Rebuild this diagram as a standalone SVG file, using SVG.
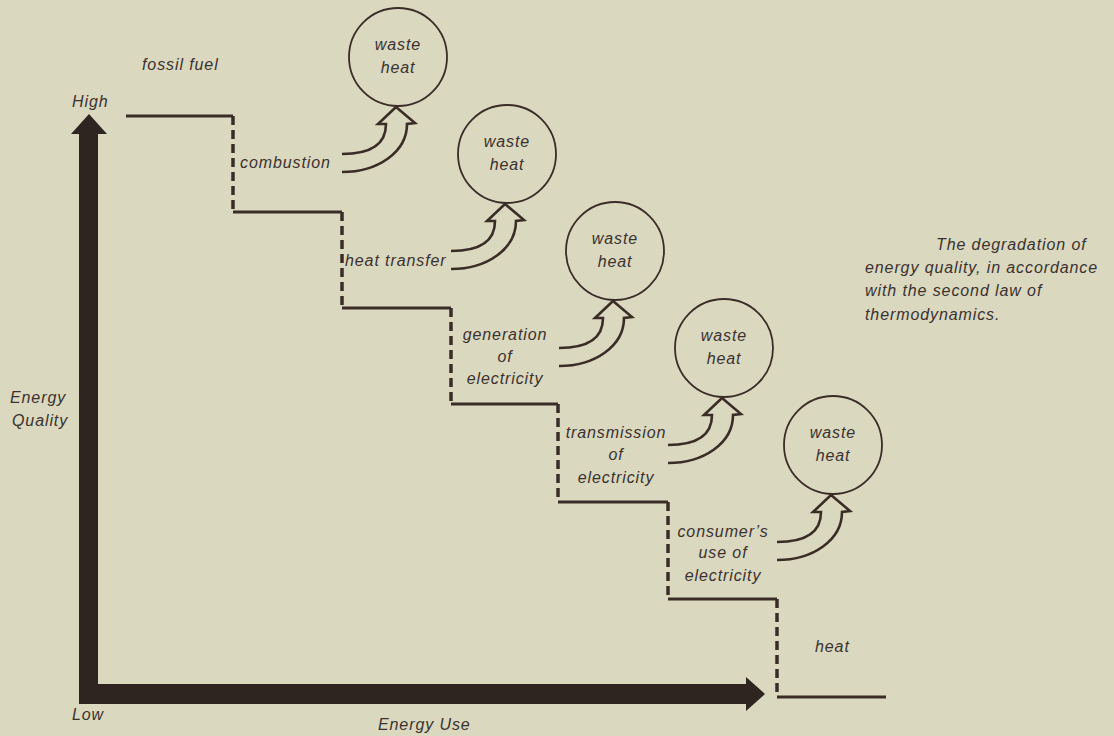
<svg xmlns="http://www.w3.org/2000/svg" width="1114" height="736" viewBox="0 0 1114 736">
<style>
text { font-family: "Liberation Sans", Arial, sans-serif; font-style: italic; font-size: 16px; fill: #3b3230; letter-spacing: 0.9px; }
.c { text-anchor: middle; }
.circ { fill: none; stroke: #3a2d27; stroke-width: 1.8; }
.solid { fill: none; stroke: #3a2d27; stroke-width: 3.2; }
.dash { fill: none; stroke: #3a2d27; stroke-width: 3.5; stroke-dasharray: 9 5; }
.axis { fill: #2f2520; }
</style>
<defs>
<path id="ha" d="M-56,97 C-28,97 -12,88 -12,67 L-20,67 L-2,50 L17,66 L9,67 C9,95 -20,115 -56,115" fill="none" stroke="#3a2d27" stroke-width="2.6"/>
</defs>
<rect width="1114" height="736" fill="#dad8bf"/>
<g id="axes">
<path class="axis" d="M79,704 V134 H71 L89,114 L107,134 H98 V684 H746 V677 L765,694 L746,711 V704 Z"/>
<text x="72" y="107">High</text>
<text x="72" y="720">Low</text>
<text x="10" y="403">Energy</text>
<text x="12" y="426">Quality</text>
<text x="378" y="730">Energy Use</text>
</g>
<g id="staircase">
<path class="solid" d="M126,116 H233 M233,212 H342 M342,308 H451 M451,404 H558 M558,502 H668 M668,599 H777 M777,697 H886"/>
<path class="dash" d="M233,116 V212 M342,212 V308 M451,308 V404 M558,404 V502 M668,502 V599 M777,599 V697"/>
</g>
<g id="fossil-fuel"><text x="142" y="70">fossil fuel</text></g>
<g id="combustion"><text x="240" y="168">combustion</text></g>
<g id="heat-transfer"><text x="345" y="266">heat transfer</text></g>
<g id="generation"><text class="c" x="505" y="340">generation</text><text class="c" x="505" y="362">of</text><text class="c" x="505" y="384">electricity</text></g>
<g id="transmission"><text class="c" x="616" y="438">transmission</text><text class="c" x="616" y="460">of</text><text class="c" x="616" y="483">electricity</text></g>
<g id="consumer"><text class="c" x="723" y="537">consumer’s</text><text class="c" x="723" y="558">use of</text><text class="c" x="723" y="581">electricity</text></g>
<g id="heat"><text x="815" y="652">heat</text></g>
<g id="waste-heat-1"><circle class="circ" cx="398" cy="57" r="49"/><text class="c" x="398" y="50">waste</text><text class="c" x="398" y="73">heat</text></g>
<g id="waste-heat-2"><circle class="circ" cx="507" cy="154" r="49"/><text class="c" x="507" y="147">waste</text><text class="c" x="507" y="170">heat</text></g>
<g id="waste-heat-3"><circle class="circ" cx="615" cy="251" r="49"/><text class="c" x="615" y="244">waste</text><text class="c" x="615" y="267">heat</text></g>
<g id="waste-heat-4"><circle class="circ" cx="724" cy="348" r="49"/><text class="c" x="724" y="341">waste</text><text class="c" x="724" y="364">heat</text></g>
<g id="waste-heat-5"><circle class="circ" cx="833" cy="445" r="49"/><text class="c" x="833" y="438">waste</text><text class="c" x="833" y="461">heat</text></g>
<g id="connectors">
<use href="#ha" x="398" y="57"/>
<use href="#ha" x="507" y="154"/>
<use href="#ha" x="615" y="251"/>
<use href="#ha" x="724" y="348"/>
<use href="#ha" x="833" y="445"/>
</g>
<g id="caption">
<text x="936" y="250">The degradation of</text>
<text x="865" y="273">energy quality, in accordance</text>
<text x="865" y="296">with the second law of</text>
<text x="865" y="320">thermodynamics.</text>
</g>
</svg>
